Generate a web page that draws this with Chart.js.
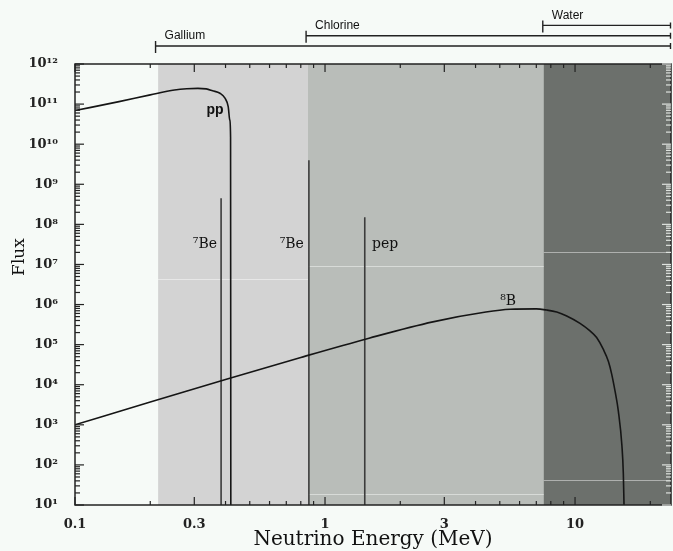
<!DOCTYPE html>
<html>
<head>
<meta charset="utf-8">
<script src="https://cdn.jsdelivr.net/npm/chart.js@4.4.1/dist/chart.umd.min.js"></script>
<style>
  html, body { margin: 0; padding: 0; background: #f6faf7; }
  canvas { display: block; }
</style>
</head>
<body>
<canvas id="fluxChart" width="673" height="551"></canvas>
<script>
// axis ranges
const energyMin = 0.1, energyMax = 24.2;
const fluxMin = 10, fluxMax = 1e12;
const energyTickLabels = [0.1, 0.3, 1, 3, 10];
const fluxDecades = [1, 2, 3, 4, 5, 6, 7, 8, 9, 10, 11, 12];

// pp continuum
const ppEnergy = [0.1, 0.15, 0.2, 0.25, 0.28, 0.31, 0.335, 0.355, 0.38, 0.398, 0.41, 0.416, 0.419, 0.42];
const ppFlux   = [6.9e10, 1.15e11, 1.7e11, 2.25e11, 2.42e11, 2.46e11, 2.4e11, 2.15e11, 1.86e11, 1.4e11, 8.6e10, 4e10, 1.5e10, 10];

// 8B continuum
const b8Energy = [0.1, 0.2, 0.4, 0.8, 1.5, 2.7, 4.4, 5.5, 7, 7.7, 8.45, 9.26, 10.47, 11.48, 12.2, 12.98, 13.6, 14.0, 14.45, 14.9, 15.4, 15.6, 15.7];
const b8Flux   = [1000, 3700, 1.35e4, 4.8e4, 1.45e5, 3.7e5, 6.5e5, 7.6e5, 7.8e5, 7.3e5, 6.5e5, 5.2e5, 3.4e5, 2.2e5, 1.5e5, 7.6e4, 3.8e4, 1.9e4, 7e3, 2.2e3, 300, 62, 10];

// line sources
const lineNames  = ['7Be (0.38)', '7Be (0.86)', 'pep'];
const lineEnergy = [0.384, 0.862, 1.442];
const lineFlux   = [4.5e8, 4e9, 1.5e8];

// labels on the curves
const curveLabels = ['pp', '\u2077Be', '\u2077Be', 'pep', '\u2078B'];
const curveLabelEnergy = [0.363, 0.331, 0.736, 1.74, 5.4];
const curveLabelFlux   = [7e10, 3.1e7, 3.1e7, 3.1e7, 1.18e6];

// detector thresholds
const detectorNames  = ['Gallium', 'Chlorine', 'Water'];
const detectorStart  = [0.21, 0.84, 7.43];
const regionStart    = [0.215, 0.855, 7.5];
const regionColors   = ['#d3d3d3', '#b9bdb9', '#6c706c'];
// faint seams inside the shaded blocks
const seamRegion = [0, 1, 1, 2, 2];
const seamFlux   = [4.4e6, 9.1e6, 19, 2.0e7, 43];

const supDigits = {'0':'\u2070','1':'\u00b9','2':'\u00b2','3':'\u00b3','4':'\u2074','5':'\u2075','6':'\u2076','7':'\u2077','8':'\u2078','9':'\u2079'};
function sup(n) { return String(n).split('').map(c => supDigits[c]).join(''); }

function toPoints(xs, ys) { return xs.map((x, i) => ({ x: x, y: ys[i] })); }

const datasets = [
    { label: 'pp', data: toPoints(ppEnergy, ppFlux), borderColor: '#151515', borderWidth: 1.6, cubicInterpolationMode: 'monotone' },
    { label: '8B', data: toPoints(b8Energy, b8Flux), borderColor: '#151515', borderWidth: 1.6, cubicInterpolationMode: 'monotone' }
];
lineEnergy.forEach((e, i) => {
    datasets.push({ label: lineNames[i], data: toPoints([e, e], [fluxMin, lineFlux[i]]), borderColor: '#3c3c3c', borderWidth: 1.6 });
});

const decoration = {
    id: 'decoration',
    beforeDatasetsDraw(chart) {
        const { ctx, chartArea: a, scales: { x, y } } = chart;
        ctx.save();
        regionStart.forEach((e, i) => {
            const px = x.getPixelForValue(e);
            ctx.fillStyle = regionColors[i];
            ctx.fillRect(px, a.top, a.right - px, a.bottom - a.top);
        });
        ctx.strokeStyle = 'rgba(255,255,255,0.45)';
        ctx.lineWidth = 1;
        seamFlux.forEach((f, i) => {
            const r = seamRegion[i];
            const x0 = x.getPixelForValue(regionStart[r]);
            const x1 = r + 1 < regionStart.length ? x.getPixelForValue(regionStart[r + 1]) : a.right;
            const py = Math.round(y.getPixelForValue(f)) + 0.5;
            ctx.beginPath(); ctx.moveTo(x0, py); ctx.lineTo(x1, py); ctx.stroke();
        });
        ctx.restore();
    },
    afterDatasetsDraw(chart) {
        const { ctx, chartArea: a, scales: { x, y } } = chart;
        ctx.save();
        // frame
        ctx.strokeStyle = '#222';
        ctx.lineWidth = 1.5;
        ctx.strokeRect(a.left, a.top, a.right - a.left, a.bottom - a.top);

        // y ticks, inward on both sides
        ctx.lineWidth = 1.2;
        for (let d = 1; d <= 12; d++) {
            for (let m = 1; m <= 9; m++) {
                if (d === 12 && m > 1) break;
                const py = y.getPixelForValue(m * Math.pow(10, d));
                const len = m === 1 ? 9 : 5;
                ctx.strokeStyle = '#222';
                ctx.beginPath(); ctx.moveTo(a.left, py); ctx.lineTo(a.left + len, py); ctx.stroke();
                ctx.strokeStyle = '#dfe3df';
                ctx.beginPath(); ctx.moveTo(a.right, py); ctx.lineTo(a.right - len, py); ctx.stroke();
            }
        }
        // x ticks, inward on top and bottom
        for (let k = -1; k <= 1; k++) {
            for (let m = 1; m <= 9; m++) {
                const v = m * Math.pow(10, k);
                if (v < energyMin || v > energyMax) continue;
                const px = x.getPixelForValue(v);
                const len = energyTickLabels.some(t => Math.abs(t - v) < 1e-9) ? 8 : 4;
                ctx.strokeStyle = '#222';
                ctx.beginPath(); ctx.moveTo(px, a.bottom); ctx.lineTo(px, a.bottom - len); ctx.stroke();
                ctx.beginPath(); ctx.moveTo(px, a.top); ctx.lineTo(px, a.top + len); ctx.stroke();
            }
        }

        // curve labels
        ctx.fillStyle = '#111';
        ctx.textAlign = 'center';
        ctx.textBaseline = 'middle';
        curveLabels.forEach((t, i) => {
            ctx.font = i === 0 ? 'bold 14px "Liberation Sans"' : '14px "DejaVu Serif"';
            ctx.fillText(t, x.getPixelForValue(curveLabelEnergy[i]), y.getPixelForValue(curveLabelFlux[i]));
        });

        // detector threshold brackets above the plot
        ctx.strokeStyle = '#222';
        ctx.lineWidth = 1.4;
        ctx.font = '12px "Liberation Sans"';
        ctx.textAlign = 'left';
        ctx.textBaseline = 'middle';
        detectorNames.forEach((name, i) => {
            const x0 = x.getPixelForValue(detectorStart[i]);
            const py = a.top - 18 - i * 10.3;
            ctx.beginPath();
            ctx.moveTo(x0, py - 5); ctx.lineTo(x0, py + 7);
            ctx.moveTo(x0, py); ctx.lineTo(a.right, py);
            ctx.moveTo(a.right - 0.5, py - 3); ctx.lineTo(a.right - 0.5, py + 3);
            ctx.stroke();
            ctx.fillText(name, x0 + 9, py - 10);
        });

        // axis titles
        ctx.fillStyle = '#111';
        ctx.font = '20px "DejaVu Serif"';
        ctx.textAlign = 'center';
        ctx.textBaseline = 'middle';
        ctx.fillText('Neutrino Energy (MeV)', (a.left + a.right) / 2, 540);
        ctx.save();
        ctx.translate(20, 257);
        ctx.rotate(-Math.PI / 2);
        ctx.font = '17px "DejaVu Serif"';
        ctx.fillText('Flux', 0, 0);
        ctx.restore();
        ctx.restore();
    }
};

const ctx = document.getElementById('fluxChart').getContext('2d');
new Chart(ctx, {
    type: 'line',
    data: { datasets: datasets },
    options: {
        responsive: false,
        animation: false,
        parsing: false,
        layout: { padding: { left: 0, top: 64, right: 2, bottom: 0 } },
        elements: { point: { radius: 0 } },
        plugins: { legend: { display: false }, tooltip: { enabled: false } },
        scales: {
            x: {
                type: 'logarithmic',
                min: energyMin,
                max: energyMax,
                grid: { display: false },
                border: { display: false },
                afterBuildTicks: s => { s.ticks = energyTickLabels.map(v => ({ value: v })); },
                afterFit: s => { s.height = 46; },
                ticks: {
                    autoSkip: false, maxRotation: 0, padding: 4,
                    color: '#222',
                    font: { family: 'DejaVu Serif', size: 13, weight: 'bold' },
                    callback: v => String(v)
                }
            },
            y: {
                type: 'logarithmic',
                min: fluxMin,
                max: fluxMax,
                grid: { display: false },
                border: { display: false },
                afterBuildTicks: s => { s.ticks = fluxDecades.map(d => ({ value: Math.pow(10, d) })); },
                afterFit: s => { s.width = 75; },
                ticks: {
                    autoSkip: false, padding: 9,
                    color: '#222',
                    font: { family: 'DejaVu Serif', size: 13, weight: 'bold' },
                    callback: v => '10' + sup(Math.round(Math.log10(v)))
                }
            }
        }
    },
    plugins: [decoration]
});
</script>
</body>
</html>
